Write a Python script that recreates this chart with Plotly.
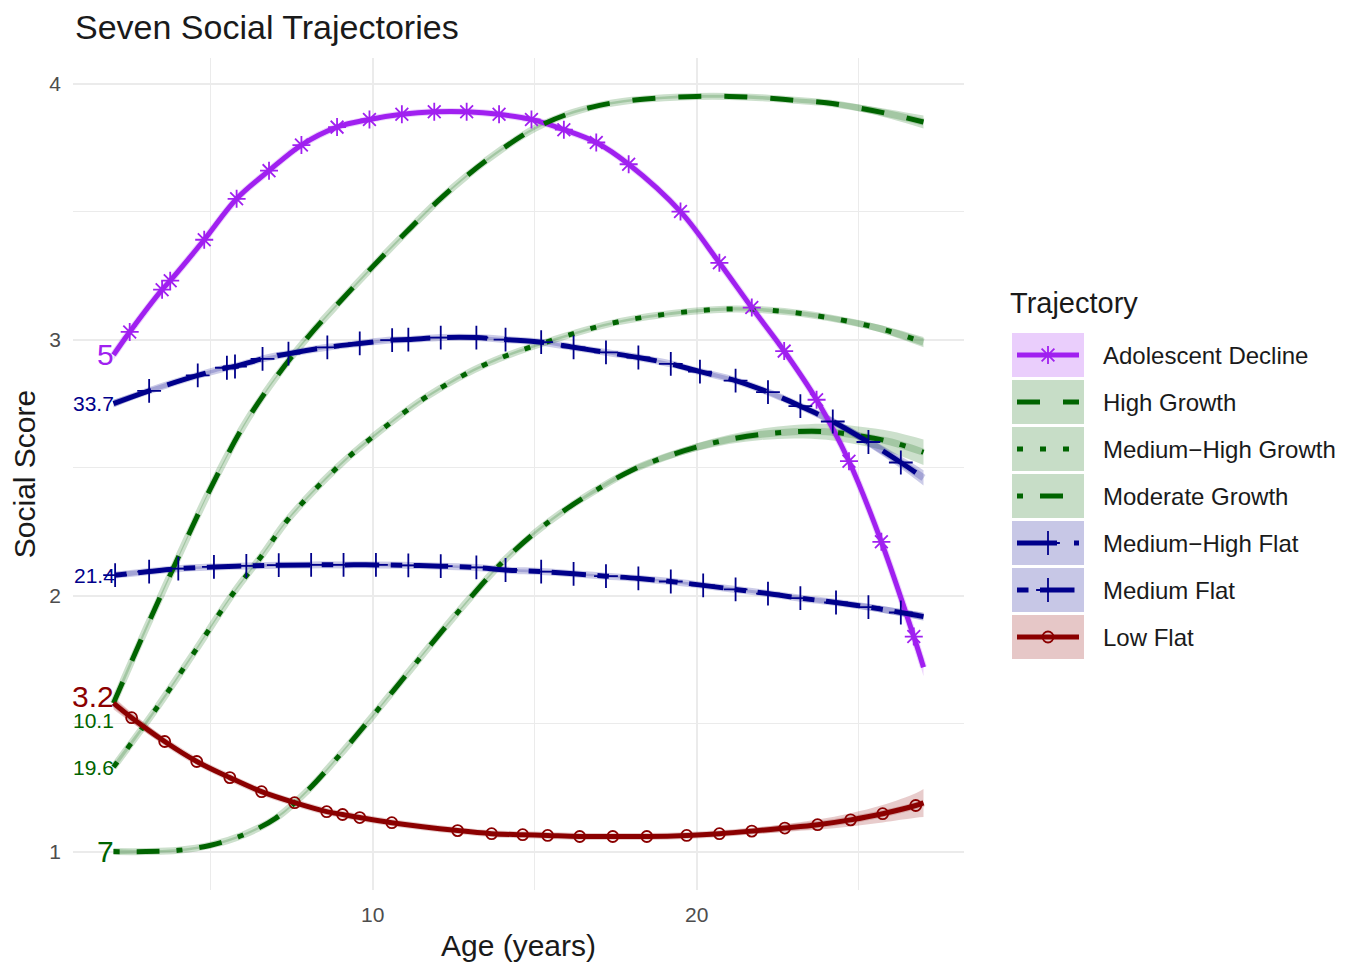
import plotly.graph_objects as go

W, H = 1357, 967
OFF = 8                      # page body margin of the html page
FW, FH = W - OFF, H - OFF    # figure size so the page exactly fills the window

# ---------------- data ----------------
ad_age = [2.0, 2.5, 3.5, 3.75, 4.8, 5.8, 6.8, 7.8, 8.9, 9.9, 10.9, 11.9, 12.9, 13.9, 14.9, 15.9,
          16.9, 17.9, 19.5, 20.7, 21.7, 22.7, 23.7, 24.7, 25.7, 26.7, 27.0]
ad_score = [2.94, 3.03, 3.195, 3.23, 3.39, 3.55, 3.66, 3.76, 3.83, 3.86, 3.88, 3.89, 3.89, 3.88, 3.86, 3.82,
            3.77, 3.685, 3.50, 3.30, 3.125, 2.955, 2.765, 2.525, 2.21, 1.84, 1.72]
ad_se = [0.02, 0.015, 0.01, 0.01, 0.008, 0.006, 0.006, 0.006, 0.006, 0.006, 0.006, 0.006, 0.006, 0.006, 0.006, 0.006,
         0.006, 0.006, 0.006, 0.008, 0.008, 0.01, 0.012, 0.015, 0.02, 0.03, 0.035]

hg_age = [2.0, 3.0, 4.0, 5.0, 6.0, 7.0, 8.0, 9.0, 10.0, 11.0, 12.0, 13.0, 14.0, 15.0, 16.0, 17.0, 18.0,
          19.0, 20.0, 21.0, 22.0, 23.0, 24.0, 25.0, 26.0, 27.0]
hg_score = [1.58, 1.87, 2.15, 2.42, 2.66, 2.85, 3.01, 3.15, 3.285, 3.415, 3.54, 3.65, 3.745, 3.825, 3.88, 3.915, 3.935,
            3.945, 3.95, 3.95, 3.945, 3.935, 3.925, 3.905, 3.88, 3.85]
hg_se = [0.015, 0.01, 0.006, 0.005, 0.005, 0.005, 0.005, 0.005, 0.005, 0.005, 0.005, 0.005, 0.005, 0.005, 0.005, 0.005, 0.005,
         0.005, 0.006, 0.006, 0.007, 0.008, 0.01, 0.013, 0.018, 0.025]

mhg_age = [2.0, 3.3, 4.5, 5.7, 6.6, 7.4, 8.9, 10.0, 11.7, 13.6, 15.6, 17.6, 19.8, 21.2, 22.7, 24.1, 25.6, 27.0]
mhg_score = [1.33, 1.555, 1.78, 2.01, 2.16, 2.30, 2.50, 2.62, 2.78, 2.91, 3.00, 3.07, 3.11, 3.12, 3.11, 3.085, 3.045, 2.99]
mhg_se = [0.012, 0.008, 0.006, 0.005, 0.005, 0.005, 0.005, 0.005, 0.005, 0.005, 0.005, 0.005, 0.006, 0.006, 0.008, 0.01, 0.014, 0.02]

mg_age = [2.0, 3.0, 4.0, 5.0, 6.0, 7.0, 8.0, 9.0, 10.0, 11.0, 12.0, 13.0, 14.0, 15.0, 16.0, 17.0, 18.0,
          19.0, 20.0, 21.0, 22.0, 23.0, 24.0, 25.0, 26.0, 27.0]
mg_score = [1.00, 1.00, 1.005, 1.025, 1.065, 1.13, 1.24, 1.38, 1.53, 1.685, 1.84, 1.99, 2.13, 2.245, 2.34, 2.42, 2.49,
            2.54, 2.58, 2.61, 2.63, 2.64, 2.64, 2.625, 2.60, 2.56]
mg_se = [0.01, 0.006, 0.005, 0.005, 0.005, 0.005, 0.005, 0.005, 0.005, 0.005, 0.005, 0.005, 0.005, 0.006, 0.006, 0.008, 0.01,
         0.012, 0.015, 0.018, 0.022, 0.026, 0.031, 0.036, 0.042, 0.05]

mhf_age = [2.0, 3.1, 4.6, 5.5, 5.75, 6.6, 7.4, 8.6, 9.6, 10.6, 11.1, 12.1, 13.2, 14.1, 15.2, 16.2, 17.2, 18.2,
           19.2, 20.1, 21.2, 22.2, 23.2, 24.2, 25.3, 26.3, 27.0]
mhf_score = [2.75, 2.80, 2.86, 2.89, 2.895, 2.925, 2.945, 2.97, 2.985, 2.998, 3.00, 3.008, 3.008, 3.00, 2.99, 2.97, 2.95, 2.93,
             2.905, 2.875, 2.84, 2.795, 2.74, 2.68, 2.60, 2.52, 2.46]
mhf_se = [0.015, 0.01, 0.008, 0.006, 0.006, 0.006, 0.006, 0.006, 0.006, 0.006, 0.006, 0.006, 0.006, 0.006, 0.006, 0.006, 0.006, 0.006,
          0.006, 0.008, 0.008, 0.01, 0.012, 0.014, 0.018, 0.024, 0.03]

mf_age = [2.05, 3.1, 4.0, 5.1, 6.1, 7.1, 8.1, 9.1, 10.1, 11.1, 12.1, 13.2, 14.1, 15.2, 16.2, 17.2, 18.2,
          19.2, 20.2, 21.2, 22.2, 23.2, 24.3, 25.3, 26.3, 27.0]
mf_score = [2.08, 2.094, 2.105, 2.112, 2.116, 2.119, 2.12, 2.12, 2.12, 2.118, 2.115, 2.11, 2.10, 2.094, 2.085, 2.076, 2.067,
            2.055, 2.04, 2.024, 2.008, 1.99, 1.973, 1.955, 1.934, 1.918]
mf_se = [0.012, 0.008, 0.006, 0.005, 0.005, 0.005, 0.005, 0.005, 0.005, 0.005, 0.005, 0.005, 0.005, 0.005, 0.005, 0.005, 0.005,
         0.005, 0.006, 0.006, 0.007, 0.008, 0.01, 0.012, 0.014, 0.016]

lf_age = [2.0, 2.56, 3.58, 4.57, 5.59, 6.57, 7.59, 8.58, 9.07, 9.6, 10.59, 12.62, 13.67, 14.63, 15.4, 16.39,
          17.41, 18.46, 19.69, 20.7, 21.7, 22.72, 23.73, 24.75, 25.74, 26.76, 27.0]
lf_score = [1.58, 1.523, 1.43, 1.352, 1.289, 1.234, 1.191, 1.156, 1.145, 1.133, 1.113, 1.082, 1.07, 1.066, 1.063, 1.059,
            1.059, 1.059, 1.063, 1.07, 1.08, 1.092, 1.105, 1.124, 1.148, 1.18, 1.19]
lf_se = [0.025, 0.02, 0.014, 0.01, 0.008, 0.007, 0.006, 0.006, 0.006, 0.006, 0.006, 0.006, 0.006, 0.006, 0.006, 0.006,
         0.006, 0.006, 0.008, 0.01, 0.012, 0.015, 0.02, 0.026, 0.034, 0.048, 0.055]

trajectories = ["Adolescent Decline", "High Growth", "Medium\u2212High Growth", "Moderate Growth",
                "Medium\u2212High Flat", "Medium Flat", "Low Flat"]
start_labels = ["5", "10.1", "19.6", "7", "33.7", "21.4", "3.2"]

# ---------------- styles ----------------
PURPLE, DGREEN, NAVY, DRED = "#A020F0", "#006400", "#00008B", "#8B0000"
FONT = "Liberation Sans, Arial, sans-serif"


def rgba(hexc, a):
    h = hexc.lstrip("#")
    return "rgba(%d,%d,%d,%.3f)" % (int(h[0:2], 16), int(h[2:4], 16), int(h[4:6], 16), a)


DASH = {
    "solid": "solid",
    "dashed": "23px,23px",
    "dotted": "6px,17px",
    "dotdash": "6px,17px,23px,17px",
    "longdash": "40px,17px",
    "twodash": "11.5px,11.5px,34.5px,11.5px",
}

series = [
    dict(x=ad_age, y=ad_score, se=ad_se, color=PURPLE, dash="solid", symbol="asterisk-open", msize=15,
         mfirst=1, lsize=30, lshift=0),
    dict(x=hg_age, y=hg_score, se=hg_se, color=DGREEN, dash="dashed", symbol=None, msize=0,
         mfirst=1, lsize=21, lshift=-17),
    dict(x=mhg_age, y=mhg_score, se=mhg_se, color=DGREEN, dash="dotted", symbol=None, msize=0,
         mfirst=1, lsize=21, lshift=0),
    dict(x=mg_age, y=mg_score, se=mg_se, color=DGREEN, dash="dotdash", symbol=None, msize=0,
         mfirst=1, lsize=30, lshift=0),
    dict(x=mhf_age, y=mhf_score, se=mhf_se, color=NAVY, dash="longdash", symbol="cross-thin-open", msize=17,
         mfirst=1, lsize=21, lshift=0),
    dict(x=mf_age, y=mf_score, se=mf_se, color=NAVY, dash="twodash", symbol="cross-thin-open", msize=17,
         mfirst=0, lsize=21, lshift=0),
    dict(x=lf_age, y=lf_score, se=lf_se, color=DRED, dash="solid", symbol="circle-open", msize=11,
         mfirst=1, lsize=30, lshift=7),
]

fig = go.Figure()

# ribbons
for s in series:
    lo = [v - e for v, e in zip(s["y"], s["se"])]
    hi = [v + e for v, e in zip(s["y"], s["se"])]
    fig.add_trace(go.Scatter(x=s["x"], y=lo, mode="lines", line=dict(width=0, shape="spline"),
                             hoverinfo="skip", showlegend=False))
    fig.add_trace(go.Scatter(x=s["x"], y=hi, mode="lines", line=dict(width=0, shape="spline"),
                             fill="tonexty", fillcolor=rgba(s["color"], 0.2),
                             hoverinfo="skip", showlegend=False))
# light band under each line
for s in series:
    fig.add_trace(go.Scatter(x=s["x"], y=s["y"], mode="lines",
                             line=dict(width=7, shape="spline", color=rgba(s["color"], 0.2)),
                             hoverinfo="skip", showlegend=False))
# lines
for s, name in zip(series, trajectories):
    fig.add_trace(go.Scatter(x=s["x"], y=s["y"], mode="lines", name=name,
                             line=dict(width=5, shape="spline", color=s["color"], dash=DASH[s["dash"]]),
                             showlegend=False))
# markers
for s, name in zip(series, trajectories):
    if s["symbol"]:
        fig.add_trace(go.Scatter(x=s["x"][s["mfirst"]:-1], y=s["y"][s["mfirst"]:-1], mode="markers", name=name,
                                 marker=dict(symbol=s["symbol"], size=s["msize"], color=s["color"],
                                             line=dict(width=1.8, color=s["color"])),
                                 showlegend=False))

# start labels
for s, lab in zip(series, start_labels):
    fig.add_annotation(x=s["x"][0], y=s["y"][0], xref="x", yref="y", text=lab, showarrow=False,
                       xanchor="right", yanchor="middle", xshift=2, yshift=s["lshift"],
                       font=dict(size=s["lsize"], color=s["color"], family=FONT))

# ---------------- custom legend (window-pixel space on x2/y2) ----------------
LEG_TOP, LEG_STEP, BOX_H = 333, 47, 44
BOX_X0, BOX_X1 = 1012, 1084
for i, (s, name) in enumerate(zip(series, trajectories)):
    y0 = LEG_TOP + i * LEG_STEP
    yc = y0 + BOX_H / 2
    fig.add_shape(type="rect", xref="x2", yref="y2", x0=BOX_X0, x1=BOX_X1, y0=y0, y1=y0 + BOX_H,
                  fillcolor=rgba(s["color"], 0.22), line=dict(width=0), layer="below")
    fig.add_trace(go.Scatter(x=[1017, 1079], y=[yc, yc], xaxis="x2", yaxis="y2", mode="lines",
                             line=dict(width=5, color=s["color"], dash=DASH[s["dash"]]),
                             hoverinfo="skip", showlegend=False))
    if s["symbol"]:
        fig.add_trace(go.Scatter(x=[1048], y=[yc], xaxis="x2", yaxis="y2", mode="markers",
                                 marker=dict(symbol=s["symbol"], size=s["msize"], color=s["color"],
                                             line=dict(width=1.8, color=s["color"])),
                                 hoverinfo="skip", showlegend=False))
    fig.add_annotation(x=1101, y=yc, xref="x2", yref="y2", text=name, showarrow=False,
                       xanchor="left", yanchor="middle",
                       font=dict(size=24, color="#1a1a1a"))
fig.add_annotation(x=1008, y=303, xref="x2", yref="y2", text="Trajectory", showarrow=False,
                   xanchor="left", yanchor="middle", font=dict(size=29, color="#1a1a1a"))

# ---------------- layout ----------------
X0, X1, YT, YB = 73, 964, 58, 890      # panel edges in window pixels
grid = "#EBEBEB"
fig.update_layout(
    width=FW, height=FH,
    margin=dict(l=0, r=0, t=0, b=0),
    paper_bgcolor="white", plot_bgcolor="rgba(0,0,0,0)",
    font=dict(family=FONT, color="#1a1a1a"),
    title=dict(text="Seven Social Trajectories", x=(75 - OFF) / FW, xanchor="left",
               y=1 - (27 - OFF) / FH, yanchor="middle",
               font=dict(size=34, color="#1a1a1a")),
    xaxis=dict(domain=[(X0 - OFF) / FW, (X1 - OFF) / FW], range=[0.75, 28.25], tick0=0, dtick=10,
               showgrid=True, gridcolor=grid, gridwidth=1.6, zeroline=False, showline=False, ticks="",
               minor=dict(dtick=5, showgrid=True, gridcolor=grid, gridwidth=0.9),
               tickfont=dict(size=21, color="#4D4D4D"), ticklabelstandoff=10,
               title=dict(text="Age (years)", font=dict(size=30, color="#1a1a1a"), standoff=9)),
    yaxis=dict(domain=[1 - (YB - OFF) / FH, 1 - (YT - OFF) / FH], range=[0.85, 4.10], tick0=0, dtick=1,
               showgrid=True, gridcolor=grid, gridwidth=1.6, zeroline=False, showline=False, ticks="",
               minor=dict(dtick=0.5, showgrid=True, gridcolor=grid, gridwidth=0.9),
               tickfont=dict(size=21, color="#4D4D4D"), ticklabelstandoff=11,
               title=dict(text="Social Score", font=dict(size=30, color="#1a1a1a"), standoff=9)),
    xaxis2=dict(domain=[0, 1], range=[OFF, W], visible=False, anchor="y2", fixedrange=True),
    yaxis2=dict(domain=[0, 1], range=[H, OFF], visible=False, anchor="x2", fixedrange=True),
    showlegend=False,
)

fig.write_html("out.html")
